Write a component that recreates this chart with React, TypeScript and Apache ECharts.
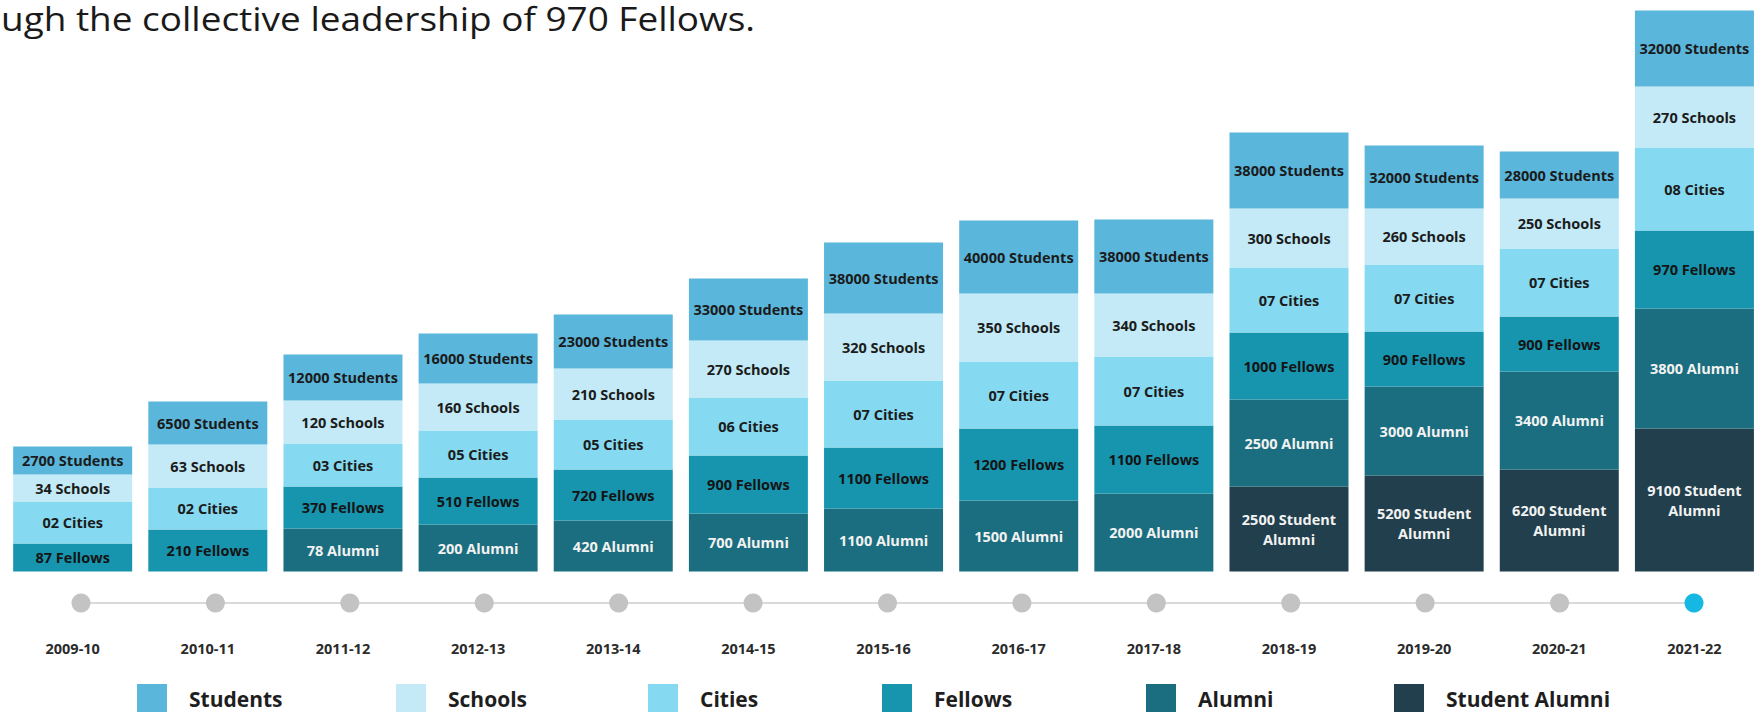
import React, { useEffect, useRef } from 'react';
import * as echarts from 'echarts';

// ---- Data ----
const years = ['2009-10', '2010-11', '2011-12', '2012-13', '2013-14', '2014-15', '2015-16', '2016-17', '2017-18', '2018-19', '2019-20', '2020-21', '2021-22'];

// Reported values (shown as labels)
const studentsVal = [2700, 6500, 12000, 16000, 23000, 33000, 38000, 40000, 38000, 38000, 32000, 28000, 32000];
const schoolsVal = [34, 63, 120, 160, 210, 270, 320, 350, 340, 300, 260, 250, 270];
const citiesVal = ['02', '02', '03', '05', '05', '06', '07', '07', '07', '07', '07', '07', '08'];
const fellowsVal = [87, 210, 370, 510, 720, 900, 1100, 1200, 1100, 1000, 900, 900, 970];
const alumniVal = [null, null, 78, 200, 420, 700, 1100, 1500, 2000, 2500, 3000, 3400, 3800];
const studentAlumniVal = [null, null, null, null, null, null, null, null, null, 2500, 5200, 6200, 9100];

// Drawn block heights of each segment in the infographic (not proportional to the values)
const studentsH = [28, 43, 46, 50, 54, 62, 71, 73, 74, 76, 63, 47, 76];
const schoolsH = [27, 43, 43, 47, 51, 57, 67, 68, 63, 59, 56, 50, 61];
const citiesH = [42, 42, 43, 47, 50, 58, 67, 67, 69, 65, 67, 68, 83];
const fellowsH = [28, 42, 42, 47, 51, 58, 61, 72, 68, 67, 55, 55, 78];
const alumniH = [null, null, 43, 47, 51, 58, 63, 71, 78, 87, 89, 98, 120];
const studentAlumniH = [null, null, null, null, null, null, null, null, null, 85, 96, 102, 143];

const seriesNames = ['Students', 'Schools', 'Cities', 'Fellows', 'Alumni', 'Student Alumni'];
const seriesColors = ['#5ab6db', '#c3eaf6', '#85d9f0', '#1795af', '#1b6e7f', '#213f4c'];
const labelColors = ['#1b1b1b', '#1b1b1b', '#1b1b1b', '#141414', '#f2f2f2', '#f2f2f2'];

const headline = 'ugh the collective leadership of 970 Fellows.';

// Layout constants
const legendLeft = [137, 396, 648, 882, 1146, 1394];

export default function App() {
  const ref = useRef<HTMLDivElement>(null);

  useEffect(() => {
    const chart = echarts.init(ref.current as HTMLDivElement, undefined, { renderer: 'svg' });

    const heights = [studentsH, schoolsH, citiesH, fellowsH, alumniH, studentAlumniH];
    const labels: string[][] = [
      studentsVal.map((v) => `${v} Students`),
      schoolsVal.map((v) => `${v} Schools`),
      citiesVal.map((v) => `${v} Cities`),
      fellowsVal.map((v) => `${v} Fellows`),
      alumniVal.map((v) => (v == null ? '' : `${v} Alumni`)),
      studentAlumniVal.map((v) => (v == null ? '' : `${v} Student\nAlumni`)),
    ];

    // stack bottom-up: Student Alumni first
    const order = [5, 4, 3, 2, 1, 0];
    const barSeries = order.map((k) => ({
      name: seriesNames[k],
      type: 'bar',
      stack: 'total',
      xAxisIndex: 0,
      yAxisIndex: 0,
      barWidth: 119,
      data: heights[k],
      itemStyle: { color: seriesColors[k] },
      label: {
        show: true,
        position: 'inside',
        formatter: (p: any) => labels[k][p.dataIndex] || '',
        fontFamily: 'Open Sans',
        fontWeight: 'bold',
        fontSize: 14.5,
        lineHeight: 20,
        color: labelColors[k],
      },
      emphasis: { disabled: true },
    }));

    const option: any = {
      animation: false,
      backgroundColor: '#ffffff',
      grid: [
        { left: 5.1, right: -9.9, top: 0, bottom: 140.5, containLabel: false },
        { left: 81, right: 68, top: 593, height: 20, containLabel: false },
      ],
      xAxis: [
        {
          type: 'category',
          gridIndex: 0,
          data: years,
          axisLine: { show: false },
          axisTick: { show: false },
          axisLabel: {
            margin: 69,
            fontFamily: 'Open Sans',
            fontWeight: 'bold',
            fontSize: 14.5,
            color: '#2b2b2b',
            interval: 0,
          },
        },
        {
          type: 'category',
          gridIndex: 1,
          data: years,
          boundaryGap: false,
          show: false,
        },
      ],
      yAxis: [
        { type: 'value', gridIndex: 0, min: 0, max: 571.5, show: false },
        { type: 'value', gridIndex: 1, min: -1, max: 1, show: false },
      ],
      legend: seriesNames.map((n, i) => ({
        data: [n],
        left: legendLeft[i],
        top: 684,
        padding: 0,
        icon: 'rect',
        itemWidth: 30,
        itemHeight: 30,
        selectedMode: false,
        textStyle: {
          fontFamily: 'Open Sans',
          fontWeight: 'bold',
          fontSize: 21,
          color: '#1e1e1e',
          padding: [0, 0, 12, 17],
        },
      })),
      graphic: [
        {
          type: 'text',
          x: 1,
          y: 2,
          scaleX: 1.155,
          silent: true,
          style: {
            text: headline,
            fontFamily: 'Open Sans',
            fontSize: 32,
            fill: '#1a1a1a',
            textVerticalAlign: 'top',
          },
        },
      ],
      series: [
        ...barSeries,
        {
          name: 'timeline',
          type: 'line',
          xAxisIndex: 1,
          yAxisIndex: 1,
          silent: true,
          symbol: 'circle',
          symbolSize: 19,
          showSymbol: true,
          lineStyle: { color: '#d9d9d9', width: 2 },
          data: years.map((y, i) => ({
            value: 0,
            itemStyle: { color: i === years.length - 1 ? '#17b7e3' : '#c3c3c3' },
          })),
          label: { show: false },
          emphasis: { disabled: true },
        },
      ],
    };

    chart.setOption(option);
    return () => chart.dispose();
  }, []);

  return (
    <div
      ref={ref}
      style={{ position: 'absolute', left: 0, top: 0, width: 1762, height: 712, background: '#ffffff' }}
    />
  );
}
